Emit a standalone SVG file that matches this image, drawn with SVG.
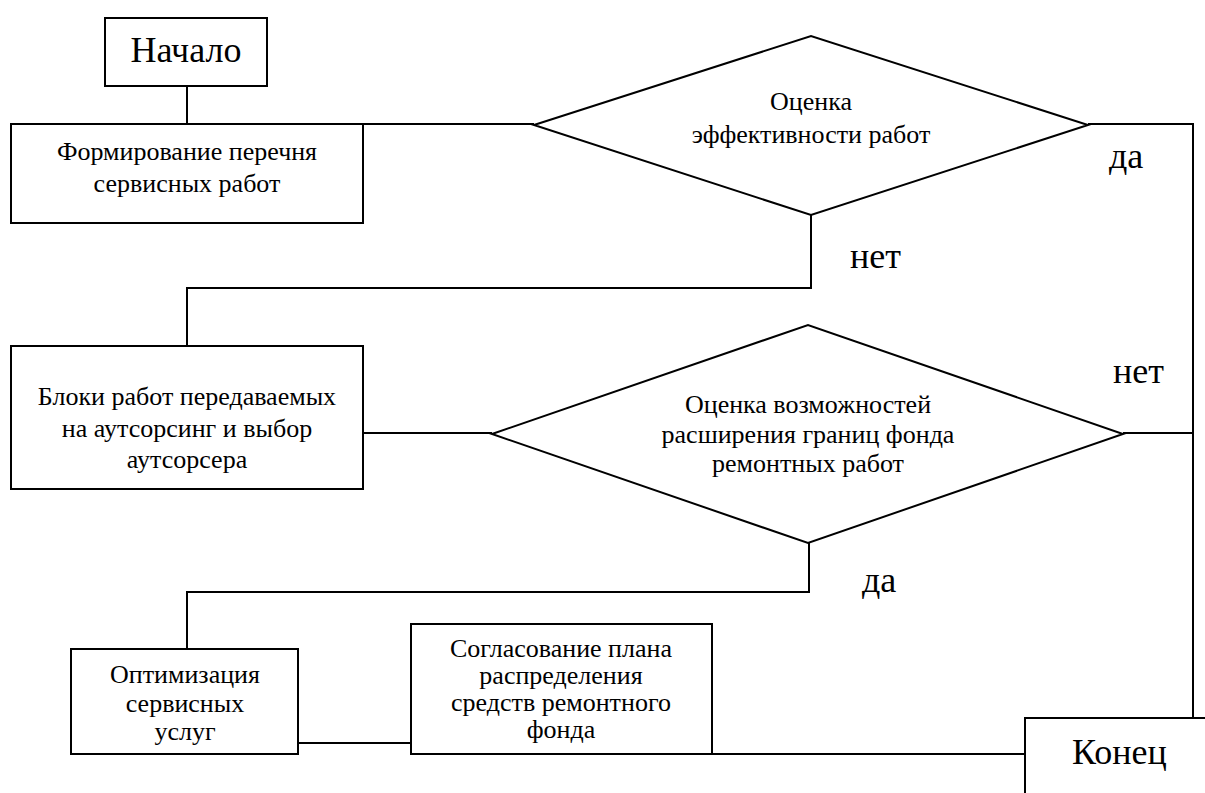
<svg xmlns="http://www.w3.org/2000/svg" width="1205" height="793" viewBox="0 0 1205 793">
<style>
.s{fill:#fff;stroke:#000;stroke-width:2}
.c{fill:none;stroke:#000;stroke-width:2}
text{font-family:'Liberation Serif','DejaVu Serif',serif;fill:#000}
.t{font-size:26px;text-anchor:middle}
.b{font-size:36px}
</style>
<rect width="1205" height="793" fill="#fff"/>
<g id="connectors">
<polyline class="c" points="187,86 187,124"/>
<polyline class="c" points="363,124 534,124"/>
<polyline class="c" points="1088,124 1193,124 1193,718"/>
<polyline class="c" points="811,215 811,288 187,288 187,346"/>
<polyline class="c" points="363,433 492,433"/>
<polyline class="c" points="1123,433 1193,433"/>
<polyline class="c" points="809,543 809,592 187,592 187,649"/>
<polyline class="c" points="298,743 411,743"/>
<polyline class="c" points="712,754 1025,754"/>
</g>
<g id="start">
<rect class="s" x="105" y="18" width="162" height="68"/>
<text class="b" x="186" y="62" text-anchor="middle" font-family="Liberation Serif, DejaVu Serif, serif">Начало</text>
</g>
<g id="form">
<rect class="s" x="11" y="124" width="352" height="99"/>
<text class="t" x="187" y="160">Формирование перечня</text>
<text class="t" x="187" y="192">сервисных работ</text>
</g>
<g id="decision1">
<polygon class="s" points="534,125 811,36 1088,125 811,215"/>
<text class="t" x="811" y="110">Оценка</text>
<text class="t" x="811" y="143">эффективности работ</text>
</g>
<g id="label-da1"><text class="b" x="1109" y="168">да</text></g>
<g id="label-net1"><text class="b" x="850" y="268">нет</text></g>
<g id="blocks">
<rect class="s" x="11" y="346" width="352" height="143"/>
<text class="t" x="187" y="405">Блоки работ передаваемых</text>
<text class="t" x="187" y="437">на аутсорсинг и выбор</text>
<text class="t" x="187" y="468">аутсорсера</text>
</g>
<g id="decision2">
<polygon class="s" points="492,434 808,325 1123,434 808,543"/>
<text class="t" x="808" y="413">Оценка возможностей</text>
<text class="t" x="808" y="443">расширения границ фонда</text>
<text class="t" x="808" y="472">ремонтных работ</text>
</g>
<g id="label-net2"><text class="b" x="1113" y="383">нет</text></g>
<g id="label-da2"><text class="b" x="862" y="592">да</text></g>
<g id="optim">
<rect class="s" x="71" y="649" width="227" height="105"/>
<text class="t" x="185" y="683">Оптимизация</text>
<text class="t" x="185" y="712">сервисных</text>
<text class="t" x="185" y="740">услуг</text>
</g>
<g id="agree">
<rect class="s" x="411" y="624" width="301" height="130"/>
<text class="t" x="561" y="657">Согласование плана</text>
<text class="t" x="561" y="684">распределения</text>
<text class="t" x="561" y="711">средств ремонтного</text>
<text class="t" x="561" y="738">фонда</text>
</g>
<g id="end">
<rect class="s" x="1025" y="718" width="200" height="100"/>
<text class="b" x="1072" y="764">Конец</text>
</g>
</svg>
